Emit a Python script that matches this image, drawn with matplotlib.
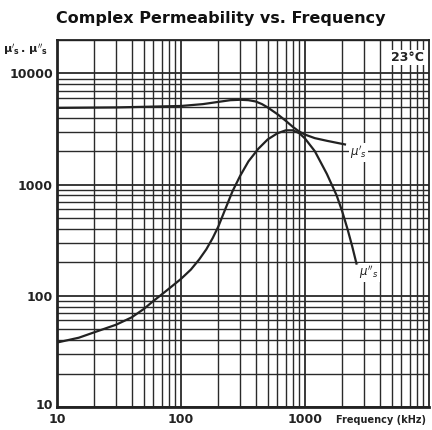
import matplotlib
matplotlib.use("Agg")
import matplotlib.pyplot as plt
from matplotlib.ticker import LogLocator, NullFormatter, FixedLocator
from matplotlib.transforms import ScaledTranslation

# Data
freq_real = [10, 30, 100, 150, 200, 250, 300, 350, 400, 450, 500, 600, 700, 800, 900, 1000, 1200, 1500, 1800, 2100]
mu_real = [4900, 4950, 5100, 5300, 5550, 5750, 5800, 5750, 5600, 5300, 4950, 4300, 3750, 3300, 3000, 2820, 2620, 2480, 2380, 2300]

freq_imag = [10, 15, 20, 30, 40, 50, 60, 70, 80, 100, 120, 140, 160, 180, 200, 230, 260, 300, 350,
             420, 500, 600, 700, 800, 900, 1000, 1200, 1500, 1800, 2000, 2200, 2400, 2600]
mu_imag = [38, 42, 47, 55, 64, 76, 90, 103, 116, 142, 172, 212, 262, 330, 420, 620, 870, 1200, 1620,
           2100, 2550, 2900, 3080, 3080, 2900, 2600, 2000, 1250, 800, 570, 400, 280, 195]

x_ticks = [10, 100, 1000]
x_tick_labels = ["10", "100", "1000"]
y_ticks = [10, 100, 1000, 10000]
y_tick_labels = ["10", "100", "1000", "10000"]

fig = plt.figure(figsize=(4.32, 4.30), dpi=100)
ax = fig.add_axes([57/432, 23/430, (429-57)/432, (407-40)/430])
ax.set_xscale("log")
ax.set_yscale("log")
ax.set_xlim(10, 10000)
ax.set_ylim(10, 20000)

gc = "#2a2a2a"
ax.xaxis.set_major_locator(FixedLocator(x_ticks + [10000]))
ax.yaxis.set_major_locator(FixedLocator(y_ticks))
ax.xaxis.set_minor_locator(LogLocator(base=10, subs=range(2, 10), numticks=20))
ax.yaxis.set_minor_locator(LogLocator(base=10, subs=range(2, 10), numticks=20))
ax.xaxis.set_minor_formatter(NullFormatter())
ax.yaxis.set_minor_formatter(NullFormatter())
ax.grid(True, which="major", color=gc, lw=1.3)
ax.grid(True, which="minor", color=gc, lw=1.0)
ax.tick_params(which="both", length=0)
ax.set_xticks(x_ticks)
ax.set_xticklabels(x_tick_labels, fontsize=9, fontweight="bold", color="#222")
ax.set_yticks(y_ticks)
ax.set_yticklabels(y_tick_labels, fontsize=9, fontweight="bold", color="#222")
ax.tick_params(axis="x", pad=4)
ax.tick_params(axis="y", pad=3)

# nudge the bottom y label "10" up slightly so it clears the x label "10"
lab10 = ax.get_yticklabels()[0]
lab10.set_transform(lab10.get_transform() + ScaledTranslation(0, 3/100, fig.dpi_scale_trans))

for s in ["left", "bottom"]:
    ax.spines[s].set_linewidth(2.0)
for s in ["top", "right"]:
    ax.spines[s].set_linewidth(1.3)
for s in ax.spines.values():
    s.set_color("#222")

ax.plot(freq_real, mu_real, color="#222", lw=1.6, zorder=5, solid_joinstyle="round")
ax.plot(freq_imag, mu_imag, color="#222", lw=1.6, zorder=5, solid_joinstyle="round")

ax.text(2300, 2350, r"$\mu'_s$", fontsize=8.5, va="top", ha="left", color="#222",
        bbox=dict(facecolor="white", edgecolor="none", pad=0.5), zorder=6)
ax.text(2750, 195, r"$\mu''_s$", fontsize=8.5, va="top", ha="left", color="#222",
        bbox=dict(facecolor="white", edgecolor="none", pad=0.5), zorder=6)

ax.text(0.987, 0.97, "23°C", transform=ax.transAxes, ha="right", va="top",
        fontsize=9, fontweight="bold", color="#222",
        bbox=dict(facecolor="white", edgecolor="none", pad=1.0), zorder=6)

fig.text(221/432, 1 - 18/430, "Complex Permeability vs. Frequency", ha="center", va="center",
         fontsize=11.5, fontweight="bold", color="#111")
fig.text(25/432, 1 - 50/430, r"$\mathbf{\mu'_s\,.\,\mu''_s}$", ha="center", va="center",
         fontsize=8, fontweight="bold", color="#222")
fig.text(336/432, 1 - 420/430, "Frequency (kHz)", ha="left", va="center",
         fontsize=7, fontweight="bold", color="#222")

fig.savefig("out.png", dpi=100)
